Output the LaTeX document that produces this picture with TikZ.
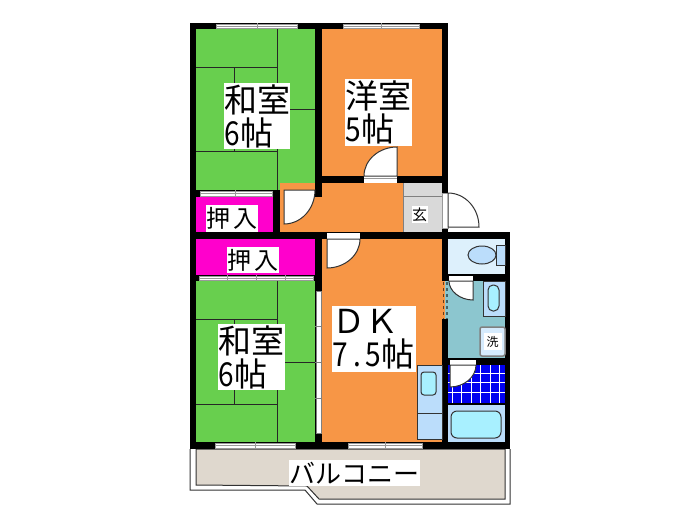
\documentclass[tikz,border=0pt]{standalone}
\usepackage{fontspec}
\setmainfont{Noto Sans CJK JP}
\definecolor{tatami}{HTML}{68CF4E}
\definecolor{floor}{HTML}{F79646}
\definecolor{closet}{HTML}{FF00CC}
\definecolor{lblue}{HTML}{BBDDFB}
\definecolor{toiletbg}{HTML}{DDF0FC}
\definecolor{cyanw}{HTML}{A8F0FF}
\definecolor{teal}{HTML}{8CC6CF}
\definecolor{tile}{HTML}{0000F0}
\definecolor{beige}{HTML}{DFD8CE}
\definecolor{entry}{HTML}{D9D9D9}
\definecolor{edge}{HTML}{333333}
\newcommand{\hw}[1]{\makebox[16.5pt][c]{\scalebox{.85}[1]{#1}}}
\newcommand{\winh}[4]{% x1 x2 y1 y2 horizontal window, divider at the middle
  \fill[white] (#1,#3) rectangle (#2,#4);
  \draw[glass] (#1,#3) rectangle (#2,#4);
  \draw[glass] (#1,{(#3+#4)/2}) -- (#2,{(#3+#4)/2});}
\tikzset{
  wall/.style={fill=black,draw=none},
  glass/.style={draw=gray!80,line width=.7pt},
  tat/.style={draw=black!85,line width=1pt},
  thin/.style={draw=edge,line width=1pt},
  doorleaf/.style={fill=white,draw=edge,line width=1pt},
  lab/.style={fill=white,inner sep=0pt,font=\fontsize{33}{33}\selectfont,align=left},
  smalllab/.style={fill=white,inner sep=0pt,font=\fontsize{24}{26}\selectfont},
}
\begin{document}
\begin{tikzpicture}[x=1pt,y=-1pt]
\useasboundingbox (0,0) rectangle (700,525);
\fill[white] (0,0) rectangle (700,525);
% balcony
\draw[fill=white,draw=edge,line width=1pt] (190,449) -- (190,490) -- (305,490) -- (317,504) -- (510,504) -- (510,449);
\draw[fill=beige,draw=edge,line width=1pt] (196,449) -- (196,485) -- (307,486) -- (319,499) -- (505,499) -- (505,449) -- cycle;
% floors
\fill[tatami] (196,29) rectangle (315,190);
\fill[tatami] (196,281) rectangle (315,442);
\fill[floor] (322,29) rectangle (442,176);
\fill[floor] (280,183) rectangle (403,232);
\fill[floor] (315,197) rectangle (322,232);
\fill[floor] (322,239) rectangle (442,442);
\fill[closet] (196,197) rectangle (273,232);
\fill[closet] (196,239) rectangle (315,275);
\fill[entry] (403,183) rectangle (442,232);
\fill[toiletbg] (448,239) rectangle (505,275);
\fill[teal] (448,281) rectangle (505,358);
\fill[tile] (448,365) rectangle (505,403);
\fill[lblue] (448,405) rectangle (505,442);
% tile grid
\foreach \gx in {452,461.5,...,503} \draw[white,line width=.8pt] (\gx,365) -- (\gx,403);
\foreach \gy in {373,382.5,392} \draw[white,line width=.8pt] (448,\gy) -- (505,\gy);
% tatami lines
\draw[tat] (277,29) -- (277,190) (196,67) -- (277,67) (234,67) -- (234,151) (196,151) -- (277,151) (277,109) -- (315,109);
\draw[tat] (277,281) -- (277,442) (196,319) -- (277,319) (234,319) -- (234,404) (196,404) -- (277,404) (277,362) -- (315,362);
% entry lines
\draw[line width=1pt,draw=gray] (403,183) -- (403,232) (403,196) -- (442,196);
% walls
\fill[wall] (190,23) rectangle (448,29);
\fill[wall] (190,23) rectangle (196,449);
\fill[wall] (315,23) rectangle (322,197);
\fill[wall] (442,23) rectangle (448,193);
\fill[wall] (322,176) rectangle (448,183);
\fill[wall] (190,190) rectangle (280,197);
\fill[wall] (273,190) rectangle (280,239);
\fill[wall] (190,232) rectangle (510,239);
\fill[wall] (442,228) rectangle (448,281);
\fill[wall] (442,319) rectangle (448,449);
\fill[wall] (315,239) rectangle (322,449);
\fill[wall] (190,275) rectangle (322,281);
\fill[wall] (190,442) rectangle (510,449);
\fill[wall] (505,232) rectangle (510,449);
\fill[wall] (448,274) rectangle (510,281);
\fill[wall] (448,358) rectangle (510,365);
\fill[wall] (448,403) rectangle (510,405);
% windows
\winh{216}{297}{24}{28}\winh{343}{419}{24}{28}
\winh{200}{272}{191}{196}
\winh{199}{313}{276}{280}
\winh{215}{295}{443}{448}\winh{348}{422}{443}{448}
\draw[glass] (257,23) -- (257,29) (381,23) -- (381,29) (235,190) -- (235,197) (227,275) -- (227,281) (256,275) -- (256,281) (285,275) -- (285,281) (255,442) -- (255,449) (385,442) -- (385,449);
% sliding door DK
\fill[white] (316,291) rectangle (321,433);
\draw[draw=gray,line width=1pt] (316,291) rectangle (321,433);
\draw[draw=gray,line width=1pt] (315,326) -- (322,326) (315,362) -- (322,362) (315,398) -- (322,398);
% opening between DK and wash room
\fill[floor] (442,281) rectangle (445,319);
\fill[teal] (445,281) rectangle (448,319);
\draw[draw=black!60!floor,line width=1.6pt,dash pattern=on 3pt off 3pt] (443.5,282) -- (443.5,319);
\draw[draw=black!50!teal,line width=1.2pt,dash pattern=on 3pt off 3pt] (447,282) -- (447,319);
% doors
\fill[white] (284,190) rectangle (315,197);
\draw[doorleaf] (284,190) -- (315,190) .. controls (315,209) and (301,224) .. (284,224) -- cycle;
\fill[white] (364,176) rectangle (397,183);
\draw[glass] (364,178) -- (397,178);
\draw[doorleaf] (397,176) -- (364,176) .. controls (364,160) and (379,147) .. (397,147) -- cycle;
\fill[white] (442,193) rectangle (448,228);
\draw[glass] (442,193) rectangle (448,228);
\draw[doorleaf] (448,227) -- (448,193) .. controls (465,193) and (479,208) .. (479,227) -- cycle;
\fill[white] (327,233) rectangle (360,239);
\draw[doorleaf] (327,239) -- (360,239) .. controls (360,255) and (345,268) .. (327,268) -- cycle;
\fill[white] (449,276) rectangle (473,281);
\draw[doorleaf] (473,281) -- (449,281) .. controls (449,291) and (460,300) .. (473,300) -- cycle;
\fill[white] (450,360) rectangle (476,365);
\draw[doorleaf] (450,365) -- (476,365) .. controls (476,377) and (464,387) .. (450,387) -- cycle;
% fixtures
\draw[thin,fill=lblue] (482,255) ellipse [x radius=14,y radius=9];
\draw[thin,fill=lblue] (496,245) rectangle (505,265);
\draw[thin,fill=lblue] (483,281) rectangle (505,316);
\draw[thin,fill=cyanw,rounded corners=5pt] (488,285) rectangle (499,311);
\draw[draw=gray,line width=1.5pt,fill=lblue!60!white,rounded corners=2pt] (480,327) rectangle (505,356);
\draw[thin,fill=lblue] (417,365) rectangle (442,439);
\draw[thin] (417,413) -- (442,413);
\draw[thin,fill=cyanw,rounded corners=3pt] (421,372) rectangle (436,395);
\draw[thin,fill=cyanw,rounded corners=6pt] (451,411) rectangle (501,438);
% labels
\node[lab,anchor=north west,text width=66pt,minimum height=66pt] (r1) at (224,83) {和室\\\hw{6}帖};
\node[lab,anchor=north west,text width=67pt,minimum height=67pt] (r2) at (345,79) {洋室\\\hw{5}帖};
\node[lab,anchor=north west,text width=67pt,minimum height=66pt] (r3) at (218,324) {和室\\\hw{6}帖};
\node[lab,anchor=north west,text width=84pt,minimum height=66pt] (r4) at (332,306) {ＤＫ\\\hw{7}\hw{.}\hw{5}帖};
\node[smalllab,minimum width=52pt,minimum height=27pt] (c1) at (232,218.5) {押\,入};
\node[smalllab,minimum width=52pt,minimum height=26pt] (c2) at (253,260) {押\,入};
\node[fill=white,inner sep=0pt,minimum width=16pt,minimum height=17pt,font=\fontsize{15}{16}\selectfont] (g) at (419.5,214.5) {玄};
\node[fill=white,inner sep=0pt,minimum width=18pt,minimum height=17pt,font=\fontsize{12}{13}\selectfont] (w) at (492.5,341.5) {洗};
\node[fill=white,inner sep=0pt,minimum width=131pt,minimum height=26pt,font=\fontsize{26}{28}\selectfont] (b) at (354.5,473) {バルコニー};
\end{tikzpicture}
\end{document}
